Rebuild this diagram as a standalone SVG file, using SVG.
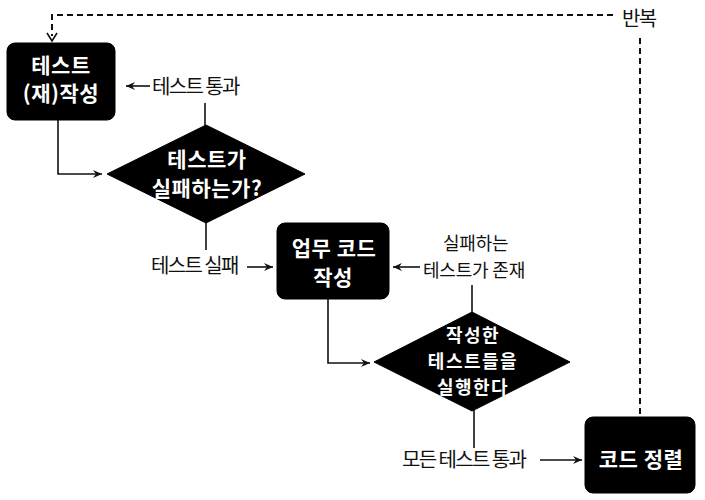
<svg xmlns="http://www.w3.org/2000/svg" width="705" height="500" viewBox="0 0 705 500">
<style>
.box{fill:#000;stroke:#000}
.w{fill:#fff;font-family:"Noto Sans CJK KR","Noto Sans",sans-serif;font-weight:bold;font-size:21px;letter-spacing:0.5px;text-anchor:middle}
.t{font-size:18px;letter-spacing:1.5px}
.l{fill:#111;font-family:"Noto Sans CJK KR","Noto Sans",sans-serif;font-size:20px;letter-spacing:-1.6px}
.s{font-size:18px;letter-spacing:-0.2px}
.c{fill:none;stroke:#111;stroke-width:1.6}
.d{fill:none;stroke:#111;stroke-width:2;stroke-dasharray:6,4}
</style>
<defs>
<marker id="ah" markerWidth="10" markerHeight="8" refX="9" refY="4" orient="auto" markerUnits="userSpaceOnUse">
<path d="M0,0 L9,4 L0,8 L3,4 Z" fill="#111"/>
</marker>
</defs>
<rect width="705" height="500" fill="#fff"/>
<g id="connectors">
<path class="d" d="M613,15 H52 V36"/>
<path d="M47,33 L52,41 L57,33" fill="none" stroke="#111" stroke-width="1.6"/>
<path class="d" d="M640,38 V414"/>
<path class="c" d="M58,120 V174 H102" marker-end="url(#ah)"/>
<path class="c" d="M150,86 H126" marker-end="url(#ah)"/>
<path class="c" d="M205,103 V126"/>
<path class="c" d="M206,222 V250"/>
<path class="c" d="M247,267 H273" marker-end="url(#ah)"/>
<path class="c" d="M420,267 H393" marker-end="url(#ah)"/>
<path class="c" d="M472,285 V313"/>
<path class="c" d="M328,299 V363 H370" marker-end="url(#ah)"/>
<path class="c" d="M474,410 V448"/>
<path class="c" d="M540,460 H582" marker-end="url(#ah)"/>
</g>
<g id="label-repeat"><text class="l" x="622" y="26">반복</text></g>
<g id="label-pass1"><text class="l" x="152" y="94">테스트 통과</text></g>
<g id="label-fail"><text class="l" x="151" y="273">테스트 실패</text></g>
<g id="label-failing"><text class="l s" x="443" y="250">실패하는</text><text class="l s" x="423" y="277">테스트가 존재</text></g>
<g id="label-allpass"><text class="l" x="402" y="467">모든 테스트 통과</text></g>
<g id="node-write-test">
<rect class="box" x="7" y="43" width="108" height="77" rx="8"/>
<text class="w" x="61" y="73">테스트</text>
<text class="w" x="61" y="101">(재)작성</text>
</g>
<g id="node-test-fails">
<polygon class="box" points="206,125 305,174 206,223 107,174"/>
<text class="w" x="207" y="167">테스트가</text>
<text class="w" x="207" y="196">실패하는가?</text>
</g>
<g id="node-write-code">
<rect class="box" x="277" y="223" width="112" height="76" rx="8"/>
<text class="w" x="334" y="256">업무 코드</text>
<text class="w" x="333" y="285">작성</text>
</g>
<g id="node-run-tests">
<polygon class="box" points="472,312 570,362 472,411 374,362"/>
<text class="w t" x="473" y="342">작성한</text>
<text class="w t" x="473" y="368">테스트들을</text>
<text class="w t" x="473" y="394">실행한다</text>
</g>
<g id="node-refactor">
<rect class="box" x="585" y="417" width="110" height="76" rx="8"/>
<text class="w" x="641" y="467" letter-spacing="1.5">코드 정렬</text>
</g>
</svg>
